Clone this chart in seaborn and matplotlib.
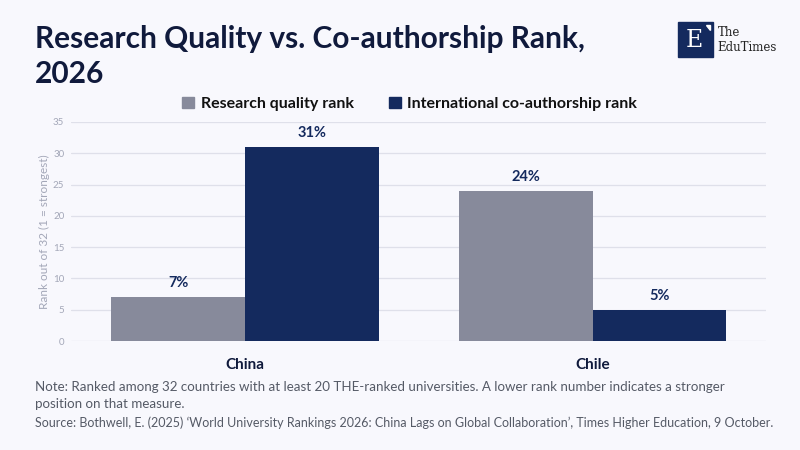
import matplotlib
matplotlib.use("Agg")
import matplotlib.pyplot as plt
import seaborn as sns
import pandas as pd
from matplotlib.patches import Rectangle, Polygon

countries = ["China", "Chile"]
series_names = ["Research quality rank", "International co-authorship rank"]
quality_rank = [7, 24]
coauthor_rank = [31, 5]
y_ticks = [0, 5, 10, 15, 20, 25, 30, 35]

df = pd.DataFrame({
    "country": countries * 2,
    "series": [series_names[0]] * 2 + [series_names[1]] * 2,
    "rank": quality_rank + coauthor_rank,
})

BG = "#f8f8fd"
GRAY = "#878a9b"
NAVY = "#142a5e"
DARK = "#101a3c"

sns.set_theme(style="white")
plt.rcParams['font.family'] = ['Lato', 'DejaVu Sans']

fig = plt.figure(figsize=(8, 4.5), dpi=100, facecolor=BG)
ax = fig.add_axes([0.089, 0.242, 0.869, 0.487])
ax.set_facecolor(BG)

sns.barplot(data=df, x="country", y="rank", hue="series",
            palette=[GRAY, NAVY], width=0.77, saturation=1,
            legend=False, ax=ax, zorder=3, linewidth=0, edgecolor="none")

for cont, vals in zip(ax.containers, [quality_rank, coauthor_rank]):
    ax.bar_label(cont, labels=[f"{v}%" for v in vals], padding=5,
                 fontsize=10.5, fontweight="bold", color=NAVY)

ax.set_xlim(-0.5, 1.5)
ax.set_ylim(0, 35)
ax.set_yticks(y_ticks)
ax.yaxis.grid(True, color="#dfe0ea", linewidth=0.9, zorder=0)
ax.set_axisbelow(True)
for s in ax.spines.values():
    s.set_visible(False)
ax.tick_params(axis="y", labelsize=7, colors="#a3a7b8", length=0, pad=5)
ax.tick_params(axis="x", labelsize=11, colors=DARK, length=0, pad=12)
for t in ax.get_xticklabels():
    t.set_fontweight("bold")
ax.set_xlabel("")
ax.set_ylabel("Rank out of 32 (1 = strongest)", fontsize=8.5, color="#a3a7b8", labelpad=2)

# legend
handles = [Rectangle((0, 0), 1, 1, color=GRAY), Rectangle((0, 0), 1, 1, color=NAVY)]
leg = fig.legend(handles, series_names, loc="center", bbox_to_anchor=(0.512, 0.769),
                 ncol=2, frameon=False, fontsize=11.5, handlelength=0.75, handleheight=0.75,
                 handletextpad=0.4, columnspacing=2.2)
for t in leg.get_texts():
    t.set_fontweight("bold")
    t.set_color("#111111")

# title
fig.text(0.044, 0.893, "Research Quality vs. Co-authorship Rank,", fontsize=21.5,
         fontweight="bold", color=DARK, va="baseline")
fig.text(0.044, 0.815, "2026", fontsize=21.5, fontweight="bold", color=DARK, va="baseline")

# logo
fig.patches.append(Rectangle((0.848, 0.873), 0.043, 0.078, transform=fig.transFigure,
                             color=NAVY))
fig.patches.append(Polygon([(0.882, 0.945), (0.888, 0.945), (0.888, 0.934)],
                           transform=fig.transFigure, color="white"))
fig.text(0.868, 0.909, "E", fontsize=17, color="white", family="DejaVu Serif",
         ha="center", va="center")
fig.text(0.897, 0.927, "The", fontsize=8.5, color="#222222", family="DejaVu Serif", va="center")
fig.text(0.897, 0.895, "EduTimes", fontsize=8.5, color="#222222", family="DejaVu Serif", va="center")

# notes
fig.text(0.044, 0.131, "Note: Ranked among 32 countries with at least 20 THE-ranked universities. "
         "A lower rank number indicates a stronger", fontsize=9.6, color="#555a66", va="baseline")
fig.text(0.044, 0.093, "position on that measure.", fontsize=9.6, color="#555a66", va="baseline")
fig.text(0.044, 0.052, "Source: Bothwell, E. (2025) \u2018World University Rankings 2026: China Lags on "
         "Global Collaboration\u2019, Times Higher Education, 9 October.", fontsize=9,
         color="#555a66", va="baseline")

fig.savefig("out.png", dpi=100, facecolor=BG)
